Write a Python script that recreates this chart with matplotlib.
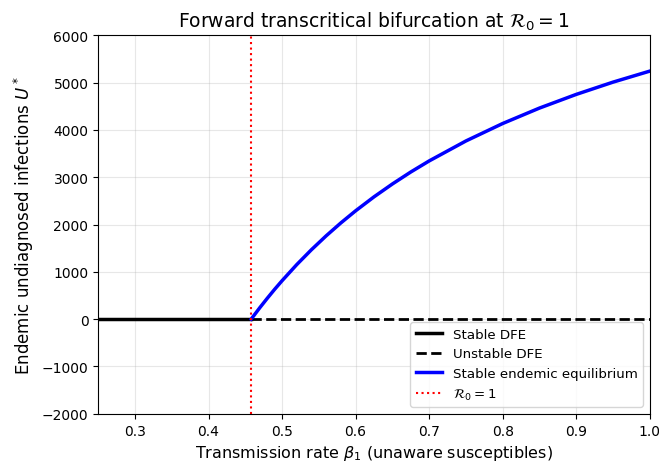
import numpy as np
import matplotlib.pyplot as plt

# Transmission rate at which R0 = 1
beta_crit = 0.458

# Disease-free equilibrium branches
beta_dfe_stable = [0.25, beta_crit]
beta_dfe_unstable = [beta_crit, 1.0]
u_dfe = [0, 0]

# Endemic equilibrium U* along beta_1
beta_endemic = [0.458, 0.47, 0.48, 0.49, 0.50, 0.52, 0.54, 0.56, 0.58, 0.60,
                0.625, 0.65, 0.675, 0.70, 0.75, 0.80, 0.85, 0.90, 0.95, 1.00]
u_endemic = [0, 247, 443, 632, 812, 1153, 1468, 1761, 2034, 2289,
             2584, 2856, 3109, 3343, 3765, 4134, 4460, 4749, 5008, 5241]

fig, ax = plt.subplots(figsize=(6.59, 4.64), dpi=100)
fig.subplots_adjust(left=0.149, right=0.986, top=0.922, bottom=0.106)

ax.plot(beta_dfe_stable, u_dfe, color='black', lw=2.5, label='Stable DFE')
ax.plot(beta_dfe_unstable, u_dfe, color='black', lw=2, ls='--', label='Unstable DFE')
ax.plot(beta_endemic, u_endemic, color='blue', lw=2.5, label='Stable endemic equilibrium')
ax.axvline(beta_crit, color='red', ls=':', lw=1.5, label=r'$\mathcal{R}_0 = 1$')

ax.set_xlim(0.25, 1.0)
ax.set_ylim(-2000, 6000)
ax.set_xlabel(r'Transmission rate $\beta_1$ (unaware susceptibles)', fontsize=11.5)
ax.set_ylabel(r'Endemic undiagnosed infections $U^*$', fontsize=12)
ax.set_title(r'Forward transcritical bifurcation at $\mathcal{R}_0 = 1$', fontsize=13.5)
ax.grid(True, alpha=0.3)
ax.legend(loc='lower right', fontsize=9.6)

plt.savefig('out.png', dpi=100)
